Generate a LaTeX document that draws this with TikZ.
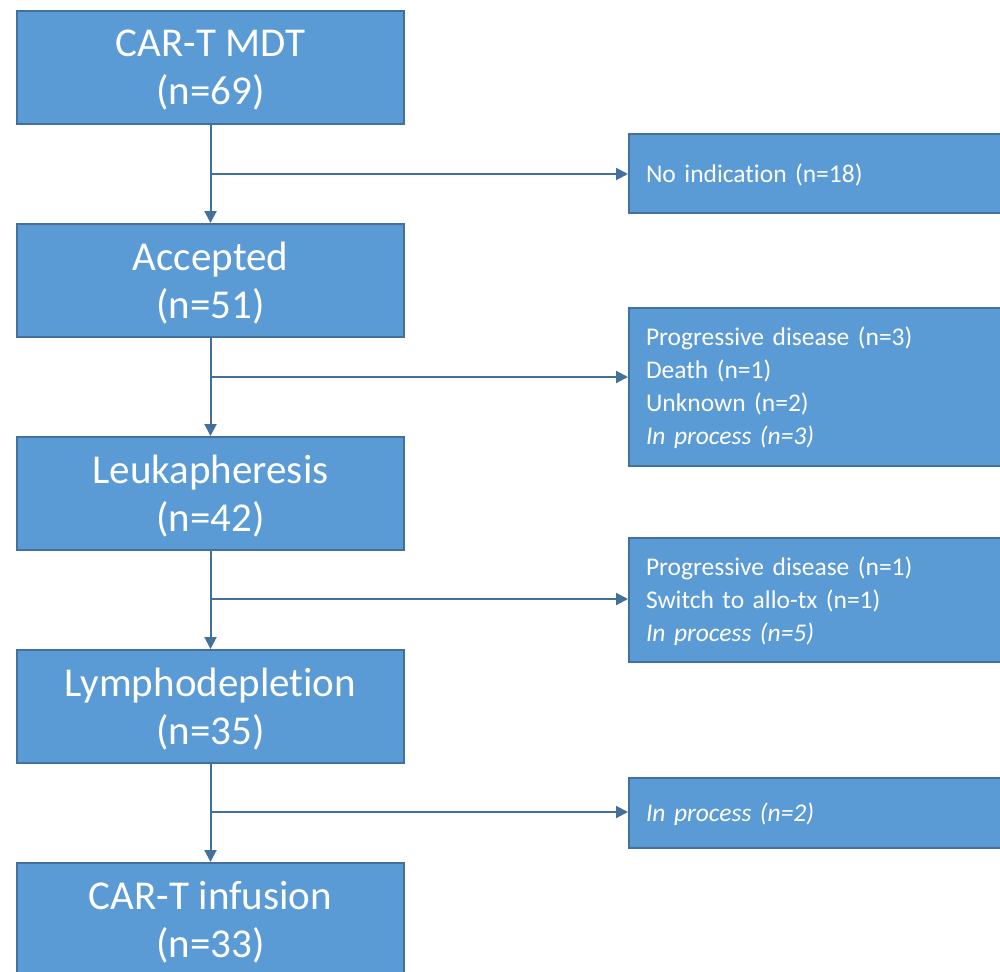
\documentclass[tikz,border=0pt]{standalone}
\usepackage{fontspec}
\setmainfont{Carlito}[RawFeature={-liga;-clig;-calt;-dlig}]
\usetikzlibrary{arrows.meta}
\definecolor{boxfill}{HTML}{5B9BD5}
\definecolor{boxline}{HTML}{41719C}
\begin{document}
\begin{tikzpicture}[x=1pt,y=-1pt,
  lbox/.style={draw=boxline,line width=2pt,fill=boxfill,text=white,minimum width=387pt,minimum height=113pt,align=center,inner sep=0pt,font=\fontsize{41}{48}\selectfont,text height=75pt,text depth=0pt},
  rbox/.style={draw=boxline,line width=2pt,fill=boxfill,text=white,minimum width=400pt,anchor=west,align=left,inner xsep=17pt,inner ysep=0pt,text width=366pt,font=\fontsize{25.5}{33}\selectfont},
  conn/.style={draw=boxline,line width=2pt,-{Triangle[length=12pt,width=12pt]}}]
\useasboundingbox (0,0) rectangle (1000,971);
\fill[white] (0,0) rectangle (1000,971);
% left column
\node[lbox] (a) at (210.5,67.5) {CAR-T MDT\\(n=69)};
\node[lbox] (b) at (210.5,280.5) {Accepted\\(n=51)};
\node[lbox] (c) at (210.5,493.5) {Leukapheresis\\(n=42)};
\node[lbox] (d) at (210.5,706.5) {Lymphodepletion\\(n=35)};
\node[lbox] (e) at (210.5,919.5) {CAR-T infusion\\(n=33)};
% right column
\node[rbox,minimum height=79pt,text height=17pt,text depth=0pt] (r1) at (628,173.5) {No indication (n=18)};
\node[rbox,minimum height=158pt,text height=0pt,text depth=83pt] (r2) at (628,387) {Progressive disease (n=3)\\Death (n=1)\\Unknown (n=2)\\\textit{In process (n=3)}};
\node[rbox,minimum height=124pt,text height=0pt,text depth=50pt] (r3) at (628,600) {Progressive disease (n=1)\\Switch to allo-tx (n=1)\\\textit{In process (n=5)}};
\node[rbox,minimum height=70pt,text height=17pt,text depth=0pt] (r4) at (628,813) {\textit{In process (n=2)}};
% vertical connectors
\draw[conn] (a.south) -- (b.north);
\draw[conn] (b.south) -- (c.north);
\draw[conn] (c.south) -- (d.north);
\draw[conn] (d.south) -- (e.north);
% branch points
\coordinate (j1) at (211,174);
\coordinate (j2) at (211,377);
\coordinate (j3) at (211,599);
\coordinate (j4) at (211,812);
\draw[conn] (j1) -- (r1.west |- j1);
\draw[conn] (j2) -- (r2.west |- j2);
\draw[conn] (j3) -- (r3.west |- j3);
\draw[conn] (j4) -- (r4.west |- j4);
\end{tikzpicture}
\end{document}
